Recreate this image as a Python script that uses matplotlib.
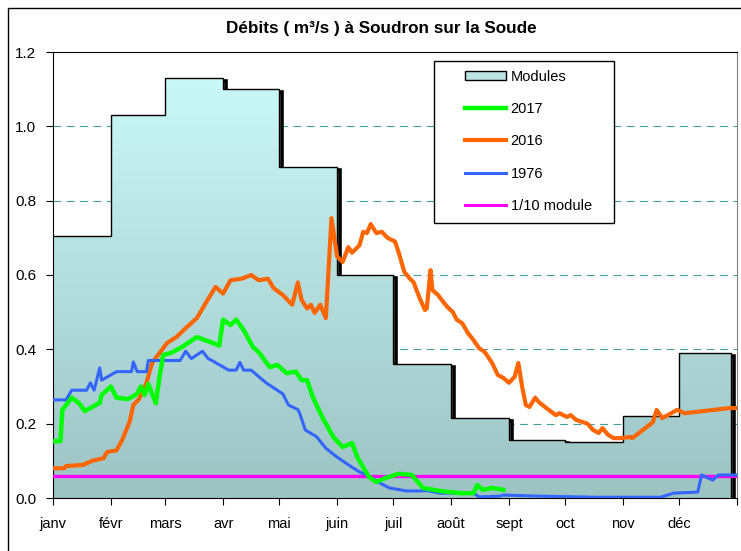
import numpy as np
import matplotlib
matplotlib.use("Agg")
import matplotlib.pyplot as plt
from matplotlib.colors import LinearSegmentedColormap
from matplotlib.lines import Line2D
from matplotlib.patches import Patch, Rectangle, Polygon
from matplotlib.transforms import offset_copy

plt.rcParams['font.family'] = ['Liberation Sans Narrow', 'Liberation Sans', 'DejaVu Sans']

months = ["janv", "févr", "mars", "avr", "mai", "juin", "juil", "août", "sept", "oct", "nov", "déc"]
month_start = [0, 31, 60, 91, 121, 152, 182, 213, 244, 274, 305, 335, 366]  # 2016 is a leap year
modules = [0.705, 1.03, 1.13, 1.10, 0.89, 0.60, 0.36, 0.215, 0.155, 0.15, 0.22, 0.39]
modules_end = 363
dixieme = 0.058

# day of year / debit (m3/s)
day_2017 = [0, 4, 5, 10, 14, 17, 21, 25, 26, 31, 34, 40, 45, 47, 49, 51, 55, 57, 59, 63, 66, 69,
            77, 84, 89, 91, 95, 98, 102, 107, 110, 116, 120, 125, 130, 133, 136, 139, 144, 150,
            155, 160, 163, 169, 173, 178, 185, 192, 198, 207, 218, 225, 227, 230, 235, 241]
q_2017 = [0.153, 0.153, 0.237, 0.27, 0.255, 0.234, 0.245, 0.256, 0.277, 0.30, 0.27, 0.266, 0.28,
          0.30, 0.277, 0.307, 0.255, 0.326, 0.385, 0.39, 0.398, 0.406, 0.433, 0.42, 0.41, 0.48,
          0.465, 0.48, 0.452, 0.406, 0.393, 0.352, 0.358, 0.336, 0.34, 0.317, 0.317, 0.272, 0.218,
          0.164, 0.137, 0.148, 0.108, 0.057, 0.043, 0.054, 0.065, 0.062, 0.027, 0.019, 0.013,
          0.013, 0.035, 0.022, 0.027, 0.022]

day_2016 = [0, 6, 7, 16, 21, 27, 29, 34, 37, 41, 43, 46, 50, 53, 57, 61, 66, 71, 77, 82, 87, 91,
            95, 101, 106, 110, 115, 118, 123, 128, 131, 133, 136, 138, 140, 143, 146, 149, 152,
            155, 158, 160, 164, 166, 168, 170, 173, 176, 179, 183, 185, 188, 191, 193, 196, 199,
            200, 202, 203, 206, 208, 211, 214, 216, 219, 222, 225, 228, 231, 235, 238, 241, 244,
            247, 249, 251, 253, 255, 258, 260, 264, 269, 271, 275, 277, 280, 286, 289, 292, 294,
            297, 300, 303, 309, 310, 321, 323, 326, 334, 338, 362, 366]
q_2016 = [0.08, 0.08, 0.086, 0.089, 0.10, 0.107, 0.124, 0.128, 0.156, 0.205, 0.25, 0.266, 0.31,
          0.363, 0.39, 0.417, 0.433, 0.457, 0.484, 0.527, 0.568, 0.55, 0.586, 0.59, 0.60, 0.586,
          0.59, 0.565, 0.546, 0.52, 0.58, 0.533, 0.51, 0.52, 0.498, 0.52, 0.484, 0.753, 0.65,
          0.635, 0.675, 0.66, 0.68, 0.716, 0.713, 0.737, 0.713, 0.716, 0.70, 0.69, 0.66, 0.608,
          0.59, 0.58, 0.54, 0.506, 0.51, 0.613, 0.56, 0.546, 0.533, 0.514, 0.50, 0.48, 0.47,
          0.444, 0.425, 0.403, 0.393, 0.363, 0.331, 0.323, 0.31, 0.326, 0.363, 0.30, 0.25, 0.245,
          0.27, 0.258, 0.242, 0.223, 0.228, 0.218, 0.223, 0.21, 0.20, 0.183, 0.175, 0.188, 0.17,
          0.161, 0.161, 0.164, 0.161, 0.204, 0.237, 0.215, 0.237, 0.228, 0.242, 0.242]

day_1976 = [0, 7, 10, 18, 20, 22, 25, 26, 34, 42, 43, 45, 50, 51, 57, 61, 68, 71, 74, 80, 83, 85,
            94, 98, 100, 102, 106, 114, 123, 126, 131, 132, 135, 141, 146, 152, 157, 160, 164, 168,
            175, 180, 189, 196, 200, 207, 225, 228, 239, 241, 260, 291, 325, 332, 345, 347, 353,
            356, 366]
q_1976 = [0.264, 0.264, 0.29, 0.29, 0.31, 0.29, 0.35, 0.317, 0.34, 0.34, 0.366, 0.34, 0.34, 0.37,
          0.37, 0.37, 0.37, 0.395, 0.375, 0.395, 0.375, 0.37, 0.344, 0.344, 0.365, 0.344, 0.344,
          0.31, 0.28, 0.25, 0.238, 0.228, 0.183, 0.165, 0.134, 0.11, 0.093, 0.083, 0.07, 0.062,
          0.04, 0.027, 0.019, 0.019, 0.02, 0.013, 0.013, 0.003, 0.005, 0.008, 0.005, 0.002, 0.002,
          0.013, 0.016, 0.062, 0.048, 0.062, 0.062]

fig = plt.figure(figsize=(7.41, 5.51), dpi=100)
ax = fig.add_axes([53 / 741, 1 - 498 / 551, 684 / 741, 446 / 551])

# Modules: step area with a vertical gradient, shadow drawn behind the fill
edges = month_start[:-1] + [modules_end]
xs = np.r_[0, np.repeat(edges, 2)[1:-1], modules_end]
ys = np.r_[0, np.repeat(modules, 2), 0]
poly = Polygon(np.column_stack([xs, ys]), closed=True, facecolor='none', edgecolor='none',
               transform=ax.transData)
ax.add_patch(poly)
cmap = LinearSegmentedColormap.from_list('mod', ['#9DC3C3', '#CDFBFB'])
grad = np.linspace(0, 1, 256).reshape(-1, 1)
img = ax.imshow(grad, cmap=cmap, origin='lower', extent=[0, 366, 0, 1.2], aspect='auto', zorder=1)
img.set_clip_path(poly)
shadow = offset_copy(ax.transData, fig=fig, x=3, y=-3, units='dots')
ax.plot(xs[1:], ys[1:], color='black', lw=2.6, zorder=0.8, transform=shadow,
        solid_joinstyle='miter', solid_capstyle='butt')
ax.plot(xs[1:], ys[1:], color='black', lw=1.0, zorder=2, solid_joinstyle='miter')

ax.axhline(dixieme, color='#FF00FF', lw=2.4, zorder=3)
ax.plot(day_2016, q_2016, color='#FF6600', lw=3.0, zorder=4, solid_joinstyle='round')
ax.plot(day_1976, q_1976, color='#3366FF', lw=2.2, zorder=5, solid_joinstyle='round')
ax.plot(day_2017, q_2017, color='#00FF00', lw=3.2, zorder=6, solid_joinstyle='round')

ax.set_xlim(0, 366)
ax.set_ylim(0, 1.2)
ax.set_xticks(month_start)
ax.set_xticklabels(months + [""])
ax.set_yticks(np.arange(0, 1.21, 0.2))
ax.set_yticklabels(["%.1f" % v for v in np.arange(0, 1.21, 0.2)])
ax.tick_params(axis='both', direction='out', length=5, width=0.8, labelsize=10.5, colors='black')
ax.tick_params(axis='x', pad=9)
ax.tick_params(axis='y', pad=7, labelsize=11)
for v in [0.2, 0.4, 0.6, 0.8, 1.0]:
    ax.axhline(v, color='#3F9F9F', lw=0.8, ls=(0, (7, 5)), zorder=0.5)
ax.set_facecolor('white')
ax.spines['right'].set_color('#808080')
for s in ['left', 'bottom', 'top']:
    ax.spines[s].set_color('black')

fig.text(381 / 741, 1 - 28 / 551, "Débits ( m³/s ) à Soudron sur la Soude", ha='center',
         va='center', fontsize=12.3, fontweight='bold')

# legend
ax.add_patch(Rectangle((0.557, 0.617), 0.263, 0.363, transform=ax.transAxes, facecolor='white',
                       edgecolor='black', lw=1.0, zorder=8))
handles = [Patch(facecolor='#BDE3E3', edgecolor='black', lw=1.0),
           Line2D([], [], color='#00FF00', lw=3.2),
           Line2D([], [], color='#FF6600', lw=3.0),
           Line2D([], [], color='#3366FF', lw=2.2),
           Line2D([], [], color='#FF00FF', lw=2.2)]
labels = ["Modules", "2017", "2016", "1976", "1/10 module"]
leg = ax.legend(handles, labels, loc='upper left', bbox_to_anchor=(0.603, 0.96), frameon=False,
                borderpad=0, borderaxespad=0, handlelength=2.8, handleheight=0.6,
                handletextpad=0.3, labelspacing=1.25, fontsize=10.5)
leg.set_zorder(9)

fig.patches.append(Rectangle((8 / 741, -0.1), 1.2, 1 - 8 / 551 + 0.1, transform=fig.transFigure,
                             facecolor='none', edgecolor='black', lw=1.0))

fig.savefig("out.png", dpi=100)
